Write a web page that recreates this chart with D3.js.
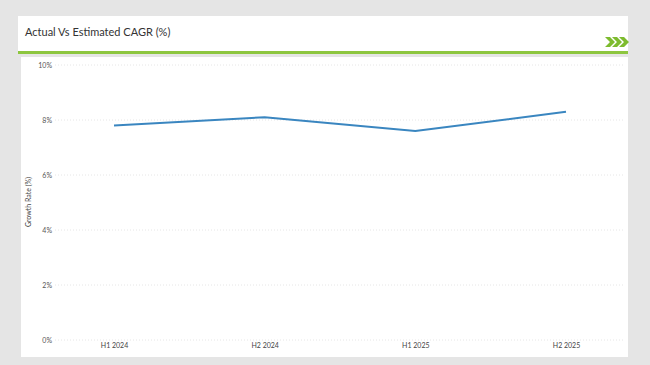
<!DOCTYPE html>
<html>
<head>
<meta charset="utf-8">
<script src="https://cdn.jsdelivr.net/npm/d3@7"></script>
<style>
  body { margin: 0; background: #e5e5e5; }
  svg { display: block; font-family: Lato, "Open Sans", sans-serif; }
</style>
</head>
<body>
<div id="chart"></div>
<script>
// Chart data
const periods = ["H1 2024", "H2 2024", "H1 2025", "H2 2025"];
const growthRates = [7.8, 8.1, 7.6, 8.3];
const yTicks = [0, 2, 4, 6, 8, 10];

const W = 650, H = 365;
const svg = d3.select("#chart").append("svg")
    .attr("width", W)
    .attr("height", H);

// background and panels
svg.append("rect").attr("width", W).attr("height", H).attr("fill", "#e5e5e5");
svg.append("rect").attr("x", 18).attr("y", 16).attr("width", 610).attr("height", 38).attr("fill", "#ffffff");
svg.append("rect").attr("x", 21).attr("y", 57).attr("width", 607).attr("height", 300).attr("fill", "#ffffff");

// header
svg.append("text")
    .attr("x", 25).attr("y", 36)
    .attr("fill", "#333")
    .style("font-size", "11px")
    .text("Actual Vs Estimated CAGR (%)");

svg.append("rect")
    .attr("x", 18).attr("y", 51)
    .attr("width", 610).attr("height", 3)
    .attr("fill", "#8dc63f");

// chevrons
const chev = svg.append("g").attr("fill", "#7dbb2e");
[0, 7, 14].forEach(dx => {
    chev.append("path")
        .attr("d", `M${605 + dx},37 L${610 + dx},37 L${615 + dx},42 L${610 + dx},47 L${605 + dx},47 L${610 + dx},42 Z`);
});

// scales
const x = d3.scalePoint().domain(periods).range([114, 566]);
const y = d3.scaleLinear().domain([0, 10]).range([340, 65]);

// grid
svg.append("g")
    .selectAll("line")
    .data(yTicks)
    .join("line")
    .attr("x1", 55).attr("x2", 625)
    .attr("y1", d => y(d)).attr("y2", d => y(d))
    .attr("stroke", "#e6e6e6")
    .attr("stroke-width", 1)
    .attr("stroke-dasharray", "1,2");

// y axis labels
const yAxis = svg.append("g")
    .attr("transform", "translate(52,0)")
    .call(d3.axisLeft(y).tickValues(yTicks).tickSize(0).tickPadding(0).tickFormat(d => d + "%"));
yAxis.select(".domain").remove();
yAxis.selectAll("text")
    .attr("fill", "#555")
    .style("font-size", "7px")
    .style("font-family", "Lato, sans-serif");

// x axis labels
const xAxis = svg.append("g")
    .attr("transform", "translate(0,343)")
    .call(d3.axisBottom(x).tickSize(0).tickPadding(0));
xAxis.select(".domain").remove();
xAxis.selectAll("text")
    .attr("fill", "#444")
    .style("font-size", "7px")
    .style("font-family", "Lato, sans-serif");

// y axis title
svg.append("text")
    .attr("transform", "translate(31,202) rotate(-90)")
    .attr("text-anchor", "middle")
    .attr("fill", "#444")
    .style("font-size", "7px")
    .text("Growth Rate (%)");

// line
const line = d3.line()
    .x((d, i) => x(periods[i]))
    .y(d => y(d));

svg.append("path")
    .datum(growthRates)
    .attr("d", line)
    .attr("fill", "none")
    .attr("stroke", "#3a86c0")
    .attr("stroke-width", 2);
</script>
</body>
</html>
